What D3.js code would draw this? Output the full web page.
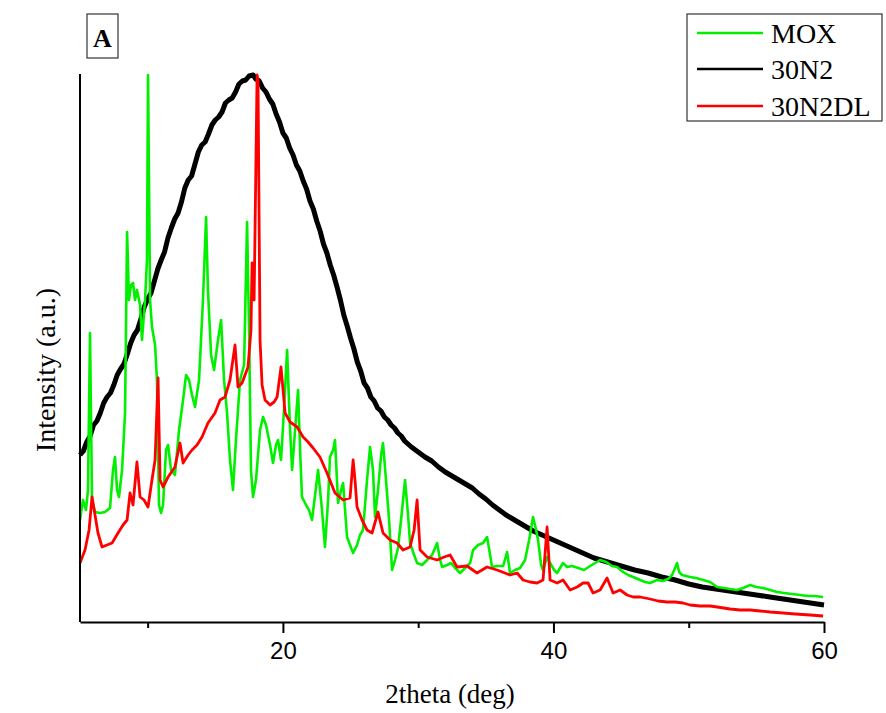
<!DOCTYPE html>
<html>
<head>
<meta charset="utf-8">
<script src="https://cdn.jsdelivr.net/npm/d3@7"></script>
<style>
    body { margin: 0; background: #fff; }
    svg { display: block; }
</style>
</head>
<body>
<div id="my_dataviz"></div>
<script>
// series names and colours, in legend order
var seriesNames = ["MOX", "30N2", "30N2DL"];
var seriesColors = ["#00f000", "#000000", "#ff0000"];

// x ticks (2theta, deg)
var majorTicks = [20, 40, 60];
var minorTicks = [10, 30, 50];

// MOX pattern [2theta, intensity]
var moxData = [
    [5.00, 102], [5.22, 122], [5.44, 112], [5.59, 132], [5.74, 289], [5.89, 122], [6.11, 110],
    [6.48, 109], [6.85, 110], [7.22, 114], [7.44, 152], [7.59, 165], [7.74, 132], [7.88, 125],
    [8.11, 152], [8.33, 209], [8.48, 390], [8.62, 322], [8.77, 337], [8.92, 339], [9.07, 322],
    [9.21, 332], [9.44, 317], [9.58, 282], [9.81, 322], [9.95, 362], [10.03, 547], [10.18, 322],
    [10.32, 295], [10.55, 277], [10.69, 242], [10.84, 117], [10.99, 109], [11.14, 117], [11.36, 172],
    [11.51, 177], [11.73, 152], [12.02, 147], [12.32, 192], [12.62, 222], [12.84, 247], [13.06, 242],
    [13.28, 227], [13.50, 215], [13.80, 242], [14.09, 322], [14.32, 405], [14.46, 332], [14.69, 267],
    [14.91, 252], [15.20, 282], [15.43, 302], [15.65, 242], [15.87, 209], [16.09, 162], [16.31, 132],
    [16.53, 182], [16.83, 242], [17.13, 257], [17.35, 400], [17.50, 292], [17.64, 152], [17.79, 125],
    [18.01, 142], [18.31, 192], [18.53, 205], [18.75, 197], [19.05, 177], [19.27, 159], [19.49, 177],
    [19.64, 182], [19.86, 162], [20.08, 212], [20.31, 272], [20.53, 192], [20.68, 152], [20.90, 192],
    [21.12, 232], [21.27, 172], [21.41, 125], [21.71, 117], [21.93, 112], [22.15, 102], [22.38, 127],
    [22.60, 152], [22.89, 112], [23.11, 75], [23.34, 122], [23.48, 165], [23.71, 172], [23.85, 182],
    [24.08, 119], [24.30, 132], [24.45, 139], [24.74, 85], [24.96, 77], [25.19, 69], [25.48, 77],
    [25.70, 87], [25.92, 92], [26.22, 142], [26.44, 175], [26.66, 152], [26.81, 105], [27.03, 132],
    [27.26, 167], [27.40, 179], [27.62, 142], [27.85, 102], [28.07, 52], [28.29, 62], [28.51, 74],
    [28.81, 112], [29.03, 142], [29.25, 107], [29.40, 79], [29.70, 67], [29.92, 59], [30.29, 57],
    [30.66, 62], [31.03, 67], [31.40, 79], [31.62, 62], [31.77, 55], [32.14, 57], [32.43, 59],
    [32.73, 54], [33.10, 49], [33.47, 54], [33.84, 59], [34.06, 72], [34.43, 77], [34.80, 79],
    [35.09, 85], [35.32, 67], [35.46, 55], [35.83, 56], [36.28, 56], [36.57, 70], [36.79, 49],
    [37.16, 52], [37.53, 54], [37.90, 62], [38.20, 82], [38.49, 105], [38.72, 92], [38.86, 82],
    [39.09, 57], [39.23, 52], [39.53, 65], [39.75, 59], [40.05, 52], [40.27, 49], [40.49, 54],
    [40.71, 59], [41.01, 55], [41.38, 56], [41.82, 54], [42.26, 52], [42.71, 56], [43.08, 59],
    [43.45, 62], [43.89, 60], [44.33, 56], [44.70, 55], [45.15, 50], [45.52, 47], [45.89, 45],
    [46.41, 42], [46.78, 40], [47.14, 39], [47.66, 42], [48.11, 41], [48.48, 43], [48.77, 47],
    [48.99, 54], [49.14, 59], [49.29, 50], [49.51, 47], [49.81, 46], [50.10, 45], [50.55, 44],
    [51.06, 42], [51.58, 40], [52.10, 35], [52.62, 34], [53.06, 33], [53.58, 32], [54.02, 34],
    [54.54, 37], [54.98, 35], [55.50, 34], [56.02, 32], [56.53, 30], [57.05, 29], [57.64, 28],
    [58.24, 27], [58.83, 26], [59.34, 26], [59.93, 25]
];

// 30N2 pattern (broad amorphous hump, noisy)
var n2Data = [
    [5.0, 167], [5.25, 171], [5.5, 180], [5.75, 186], [6.0, 197], [6.25, 201], [6.5, 209], [6.75, 219],
    [7.0, 225], [7.25, 229], [7.5, 237], [7.75, 247], [8.0, 253], [8.25, 258], [8.5, 268], [8.75, 279],
    [9.0, 287], [9.25, 292], [9.5, 303], [9.75, 315], [10.0, 323], [10.25, 329], [10.5, 341], [10.75, 353],
    [11.0, 362], [11.25, 370], [11.5, 384], [11.75, 394], [12.0, 403], [12.25, 409], [12.5, 420],
    [12.75, 434], [13.0, 442], [13.25, 446], [13.5, 458], [13.75, 470], [14.0, 477], [14.25, 480],
    [14.5, 488], [14.75, 497], [15.0, 502], [15.25, 505], [15.5, 510], [15.75, 519], [16.0, 522],
    [16.25, 524], [16.5, 530], [16.75, 538], [17.0, 541], [17.25, 542], [17.5, 546], [17.8, 547],
    [18.0, 543], [18.25, 541], [18.5, 534], [18.75, 530], [19.0, 523], [19.25, 518], [19.5, 508],
    [19.75, 500], [20.0, 489], [20.25, 484], [20.5, 474], [20.75, 467], [21.0, 457], [21.25, 451],
    [21.5, 441], [21.75, 433], [22.0, 421], [22.25, 413], [22.5, 401], [22.75, 391], [23.0, 378],
    [23.25, 369], [23.5, 357], [23.75, 347], [24.0, 335], [24.25, 322], [24.5, 307], [24.75, 296],
    [25.0, 284], [25.25, 273], [25.5, 260], [25.75, 251], [26.0, 239], [26.25, 234], [26.5, 225],
    [26.75, 221], [27.0, 214], [27.25, 211], [27.5, 205], [27.75, 202], [28.0, 197], [28.25, 194],
    [28.5, 189], [28.75, 186], [29.0, 181], [29.5, 175], [30.0, 170], [30.5, 165], [31.0, 161],
    [31.5, 155], [32.0, 150], [32.5, 146], [33.0, 142], [33.5, 138], [34.0, 134], [34.5, 128],
    [35.0, 123], [35.5, 117], [36.0, 112], [36.5, 107], [37.0, 103], [37.5, 99], [38.0, 95],
    [38.5, 91], [39.0, 88], [39.5, 85], [40.0, 82], [41.0, 76], [42.0, 70], [43.0, 64], [44.0, 60],
    [45.0, 56], [46.0, 52], [47.0, 49], [48.0, 45], [49.0, 42], [50.0, 38], [51.0, 35], [52.0, 33],
    [53.0, 31], [54.0, 29], [55.0, 27], [56.0, 25], [57.0, 23], [58.0, 21], [59.0, 19], [60.0, 17]
];

// 30N2DL pattern
var n2dlData = [
    [5.00, 59], [5.37, 72], [5.67, 92], [5.89, 125], [6.11, 107], [6.33, 89], [6.63, 75], [7.00, 77],
    [7.37, 79], [7.81, 89], [8.18, 97], [8.48, 102], [8.70, 129], [8.92, 117], [9.21, 160],
    [9.44, 125], [9.73, 122], [10.03, 115], [10.32, 142], [10.55, 162], [10.77, 244], [10.92, 142],
    [11.14, 135], [11.51, 145], [12.02, 155], [12.39, 179], [12.62, 159], [12.99, 167], [13.28, 172],
    [13.65, 177], [14.02, 185], [14.46, 199], [14.98, 209], [15.35, 222], [15.72, 225], [16.09, 242],
    [16.46, 277], [16.68, 235], [16.98, 239], [17.42, 255], [17.64, 292], [17.72, 359], [17.87, 322],
    [17.94, 392], [18.09, 547], [18.16, 542], [18.31, 282], [18.46, 237], [18.68, 222], [19.05, 217],
    [19.35, 220], [19.57, 225], [19.86, 255], [20.16, 209], [20.53, 200], [21.05, 195], [21.49, 185],
    [21.86, 180], [22.23, 174], [22.74, 165], [23.26, 149], [23.85, 129], [24.45, 122], [24.96, 124],
    [25.19, 162], [25.33, 142], [25.48, 115], [25.85, 102], [26.22, 92], [26.59, 89], [27.03, 110],
    [27.40, 89], [27.92, 82], [28.44, 79], [28.88, 72], [29.40, 75], [29.70, 92], [29.92, 122],
    [30.14, 72], [30.66, 65], [31.40, 62], [31.92, 65], [32.36, 67], [32.87, 55], [33.61, 56],
    [34.35, 49], [35.09, 55], [35.83, 52], [36.79, 47], [37.31, 49], [37.75, 42], [38.27, 40],
    [38.79, 39], [39.23, 42], [39.53, 95], [39.75, 42], [40.27, 39], [40.71, 42], [41.23, 32],
    [41.75, 35], [42.19, 39], [42.56, 39], [42.93, 29], [43.45, 32], [43.96, 44], [44.41, 29],
    [44.93, 32], [45.44, 27], [45.89, 25], [46.41, 25], [47.14, 23], [47.74, 21], [48.40, 20],
    [48.99, 20], [49.58, 19], [50.10, 17], [50.84, 16], [51.58, 16], [52.10, 15], [53.06, 13],
    [53.80, 12], [54.54, 12], [55.28, 11], [56.02, 10], [56.98, 9], [57.87, 8], [58.97, 7], [59.93, 6]
];

// set the dimensions of the graph
var width = 886;
var height = 713;
var plotLeft = 80, plotRight = 824, plotTop = 75, plotBottom = 622;

var svg = d3
    .select("#my_dataviz")
    .append("svg")
    .attr("id", "svg")
    .attr("width", width)
    .attr("height", height);

svg.append("rect")
    .attr("width", width)
    .attr("height", height)
    .attr("fill", "#fff");

var x = d3.scaleLinear().domain([5, 60]).range([plotLeft, plotRight]);
var y = d3.scaleLinear().domain([0, 547]).range([plotBottom, plotTop]);

var line = d3
    .line()
    .x(function (d) { return x(d[0]); })
    .y(function (d) { return y(d[1]); });

// black first, then green, red on top
svg.append("path")
    .datum(n2Data)
    .attr("d", line)
    .attr("fill", "none")
    .attr("stroke", seriesColors[1])
    .attr("stroke-width", 5)
    .attr("stroke-linejoin", "round");

svg.append("path")
    .datum(moxData)
    .attr("d", line)
    .attr("fill", "none")
    .attr("stroke", seriesColors[0])
    .attr("stroke-width", 2.6)
    .attr("stroke-linejoin", "round");

svg.append("path")
    .datum(n2dlData)
    .attr("d", line)
    .attr("fill", "none")
    .attr("stroke", seriesColors[2])
    .attr("stroke-width", 2.8)
    .attr("stroke-linejoin", "round");

// x axis: major ticks with labels, minor ticks without
var xAxis = svg.append("g")
    .attr("transform", "translate(0," + plotBottom + ")")
    .call(d3.axisBottom(x).tickValues(majorTicks).tickSize(11).tickSizeOuter(0).tickPadding(9));
xAxis.select(".domain").attr("stroke-width", 2);
xAxis.selectAll(".tick line").attr("stroke-width", 2);
xAxis.selectAll(".tick text")
    .style("font-family", "Liberation Sans, Arial, sans-serif")
    .style("font-size", "24px")
    .attr("fill", "#000");

svg.append("g")
    .attr("transform", "translate(0," + plotBottom + ")")
    .call(d3.axisBottom(x).tickValues(minorTicks).tickSize(6).tickSizeOuter(0).tickFormat(""))
    .call(function (g) { g.select(".domain").remove(); })
    .selectAll(".tick line").attr("stroke-width", 2);

// y axis line only, no ticks
svg.append("line")
    .attr("x1", plotLeft).attr("x2", plotLeft)
    .attr("y1", plotTop - 1).attr("y2", plotBottom)
    .attr("stroke", "#000")
    .attr("stroke-width", 2);

// axis titles
svg.append("text")
    .attr("x", 450)
    .attr("y", 703)
    .attr("text-anchor", "middle")
    .style("font-family", "Liberation Serif, Times New Roman, serif")
    .style("font-size", "27px")
    .text("2theta (deg)");

svg.append("text")
    .attr("transform", "translate(55,370) rotate(-90)")
    .attr("text-anchor", "middle")
    .style("font-family", "Liberation Serif, Times New Roman, serif")
    .style("font-size", "28px")
    .text("Intensity (a.u.)");

// panel label
svg.append("rect")
    .attr("x", 87).attr("y", 14)
    .attr("width", 31).attr("height", 44)
    .attr("fill", "#fff")
    .attr("stroke", "#333")
    .attr("stroke-width", 1.2);
svg.append("text")
    .attr("x", 102.5)
    .attr("y", 47)
    .attr("text-anchor", "middle")
    .style("font-family", "Liberation Serif, Times New Roman, serif")
    .style("font-weight", "bold")
    .style("font-size", "26px")
    .text("A");

// legend
var legend = svg.append("g");
legend.append("rect")
    .attr("x", 687).attr("y", 14)
    .attr("width", 195).attr("height", 107)
    .attr("fill", "#fff")
    .attr("stroke", "#333")
    .attr("stroke-width", 1.2);

var legendY = [33, 69, 106];
legend.selectAll("mylines")
    .data(seriesNames)
    .enter()
    .append("line")
    .attr("x1", 697).attr("x2", 763)
    .attr("y1", function (d, i) { return legendY[i]; })
    .attr("y2", function (d, i) { return legendY[i]; })
    .attr("stroke", function (d, i) { return seriesColors[i]; })
    .attr("stroke-width", 2.5);

legend.selectAll("mylabels")
    .data(seriesNames)
    .enter()
    .append("text")
    .attr("x", 771)
    .attr("y", function (d, i) { return legendY[i] + 10; })
    .style("font-family", "Liberation Serif, Times New Roman, serif")
    .style("font-size", "28px")
    .text(function (d) { return d; });
</script>
</body>
</html>
